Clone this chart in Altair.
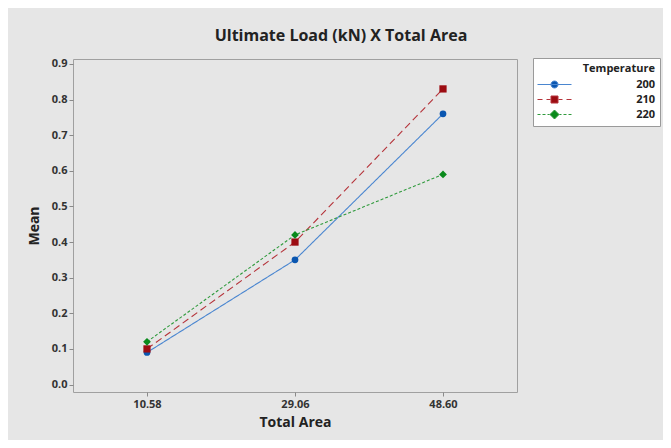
import altair as alt
import pandas as pd

temperatures = ["200", "210", "220"]
total_area = ["10.58", "29.06", "48.60"]
mean_200 = [0.09, 0.35, 0.76]
mean_210 = [0.10, 0.40, 0.83]
mean_220 = [0.12, 0.42, 0.59]
y_ticks = [0.0, 0.1, 0.2, 0.3, 0.4, 0.5, 0.6, 0.7, 0.8, 0.9]

rows = []
for t, vals in zip(temperatures, [mean_200, mean_210, mean_220]):
    for a, v in zip(total_area, vals):
        rows.append({"Temperature": t, "Total Area": a, "Mean": v})
df = pd.DataFrame(rows)

line_colors = ["#4a86d0", "#b5333a", "#2f9a3c"]
marker_colors = ["#0a56b0", "#9c0c12", "#0a8a1c"]
dashes = [[1, 0], [7, 4], [3, 2]]
marker_shapes = ["circle", "square", "diamond"]
marker_sizes = [45, 60, 115]
legend_paths = [
    "M-17,0H17M3.5,0A3.5,3.5,0,1,1,-3.5,0A3.5,3.5,0,1,1,3.5,0Z",
    "M-17,0H-12M-8,0H-4M4,0H8M12,0H17M-3.5,-3.5H3.5V3.5H-3.5Z",
    "M-17,0H-14M-12,0H-9M-7,0H-5M5,0H7M9,0H12M14,0H17M0,-4.5L4.5,0L0,4.5L-4.5,0Z",
]

FONT = "Open Sans"

x = alt.X("Total Area:O", sort=total_area,
          scale=alt.Scale(type="point", padding=0.5),
          axis=alt.Axis(title="Total Area", labelAngle=0, titlePadding=6))
y = alt.Y("Mean:Q", scale=alt.Scale(domain=[-0.021, 0.914], nice=False, zero=False),
          axis=alt.Axis(title="Mean", values=y_ticks, format=".1f", titlePadding=10))

lines = alt.Chart(df).mark_line(strokeWidth=1.1).encode(
    x=x, y=y,
    stroke=alt.Stroke("Temperature:N", scale=alt.Scale(domain=temperatures, range=line_colors), legend=None),
    strokeDash=alt.StrokeDash("Temperature:N", scale=alt.Scale(domain=temperatures, range=dashes), legend=None),
)

points = alt.Chart(df).mark_point(filled=True, opacity=1, strokeWidth=0).encode(
    x=x, y=y,
    fill=alt.Fill("Temperature:N", scale=alt.Scale(domain=temperatures, range=marker_colors), legend=None),
    shape=alt.Shape("Temperature:N", scale=alt.Scale(domain=temperatures, range=marker_shapes), legend=None),
    size=alt.Size("Temperature:O", scale=alt.Scale(domain=temperatures, range=marker_sizes), legend=None),
)

legend_layer = alt.Chart(df).transform_filter("false").mark_point(
    filled=True, opacity=1, size=4, strokeWidth=1
).encode(
    fill=alt.Fill("Temperature:N", scale=alt.Scale(domain=temperatures, range=marker_colors)),
    stroke=alt.Stroke("Temperature:N", scale=alt.Scale(domain=temperatures, range=line_colors)),
    shape=alt.Shape("Temperature:N", scale=alt.Scale(domain=temperatures, range=legend_paths)),
)

chart = alt.layer(lines, points, legend_layer).resolve_scale(
    fill="independent", stroke="independent", shape="independent", strokeDash="independent", size="independent"
).resolve_legend(
    fill="independent", stroke="independent", shape="independent"
).properties(
    width=444, height=333,
    title=alt.TitleParams("Ultimate Load (kN) X Total Area", anchor="middle", frame="group",
                          dx=46, offset=14, fontSize=16, fontWeight="bold", font=FONT, color="#222222"),
    autosize=alt.AutoSizeParams(type="none"),
    padding={"left": 65, "top": 51, "right": 146, "bottom": 48},
    background="#e6e6e6",
).configure_view(
    fill="white", stroke="#a0a0a0", strokeWidth=1
).configure_axis(
    domain=False, grid=False, tickColor="#8a8a8a", tickSize=4, labelPadding=2,
    labelFont=FONT, labelFontSize=11, labelFontWeight="bold", labelColor="#333333",
    titleFont=FONT, titleFontSize=14, titleFontWeight="bold", titleColor="#222222",
).configure_legend(
    orient="none", legendX=460, legendY=-1, padding=5,
    strokeColor="#9a9a9a", fillColor="white",
    titleFont=FONT, titleFontSize=11, titleFontWeight="bold", titleColor="#222222",
    titleAlign="right", titleAnchor="end", titlePadding=5,
    labelFont=FONT, labelFontSize=11, labelFontWeight="bold", labelColor="#222222",
    labelAlign="right", labelOffset=95, symbolOffset=11, symbolSize=4, symbolStrokeWidth=1,
    rowPadding=3,
)

chart.save("out.html", embed_options={"renderer": "svg", "actions": False})
